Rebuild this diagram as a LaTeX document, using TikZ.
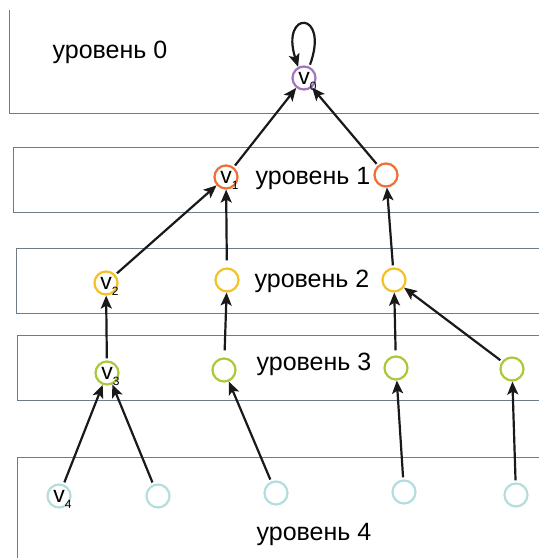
\documentclass[tikz,border=0pt]{standalone}
\usepackage{fontspec}
\setmainfont{Liberation Sans}
\usetikzlibrary{arrows.meta}

\definecolor{boxline}{HTML}{6E7C88}
\definecolor{lvlzero}{HTML}{A373BE}
\definecolor{lvlone}{HTML}{EE6E34}
\definecolor{lvltwo}{HTML}{F4C125}
\definecolor{lvlthree}{HTML}{A9C83A}
\definecolor{lvlfour}{HTML}{B4DDDD}

\newcommand{\vname}[1]{v\rlap{\smash{\raisebox{-6pt}{\fontsize{12}{12}\selectfont #1}}}}

\begin{document}
\begin{tikzpicture}[x=1pt,y=1pt,
    vert/.style={circle,draw=#1,line width=2.2pt,minimum size=23pt,inner sep=0pt,
        font=\fontsize{23}{23}\selectfont},
    lvl/.style={font=\fontsize{25}{28}\selectfont},
    arr/.style={-{Stealth[length=13pt,width=11pt,inset=3pt]},line width=2.2pt,
        color=black!90,shorten <=2pt}]
    \useasboundingbox (0,0) rectangle (539,558);
    \clip (0,0) rectangle (539,558);
    \fill[white] (0,0) rectangle (539,558);
    \draw[boxline,line width=0.9pt] (9,548) -- (9,445) -- (545,445);
    \draw[boxline,line width=0.9pt] (545,411) -- (13,411) -- (13,346) -- (545,346);
    \draw[boxline,line width=0.9pt] (545,310) -- (16,310) -- (16,245) -- (545,245);
    \draw[boxline,line width=0.9pt] (545,223) -- (17,223) -- (17,158) -- (545,158);
    \draw[boxline,line width=0.9pt] (545,101) -- (17,101) -- (17,-5);

    \node[lvl] (t0) at (110,506) {уровень 0};
    \node[lvl] (t1) at (313,380) {уровень 1};
    \node[lvl] (t2) at (312,277) {уровень 2};
    \node[lvl] (t3) at (314,194) {уровень 3};
    \node[lvl] (t4) at (314,24) {уровень 4};

    \node[vert=lvlzero] (v0) at (304,480) {\vname{0}};

    \node[vert=lvlone] (v1) at (226,381) {\vname{1}};
    \node[vert=lvlone] (u1) at (386,383) {};

    \node[vert=lvltwo] (v2) at (106,275) {\vname{2}};
    \node[vert=lvltwo] (u2) at (227,278) {};
    \node[vert=lvltwo] (w2) at (394,278) {};

    \node[vert=lvlthree] (v3) at (107,185) {\vname{3}};
    \node[vert=lvlthree] (u3) at (224,188) {};
    \node[vert=lvlthree] (w3) at (396,190) {};
    \node[vert=lvlthree] (z3) at (512,189) {};

    \node[vert=lvlfour] (v4) at (59,62) {\vname{4}};
    \node[vert=lvlfour] (u4) at (158,62) {};
    \node[vert=lvlfour] (w4) at (276,65) {};
    \node[vert=lvlfour] (y4) at (404,66) {};
    \node[vert=lvlfour] (z4) at (516,63) {};

    \draw[arr] (v0.65) .. controls (330,548) and (280,548) .. (v0.118);
    \draw[arr] (v1) -- (v0);
    \draw[arr] (u1) -- (v0);
    \draw[arr] (v2) -- (v1);
    \draw[arr,shorten <=7pt] (u2) -- (v1);
    \draw[arr] (w2) -- (u1);
    \draw[arr] (v3) -- (v2);
    \draw[arr,shorten <=7pt] (u3) -- (u2);
    \draw[arr,shorten <=5pt] (w3) -- (w2);
    \draw[arr] (z3) -- (w2);
    \draw[arr] (v4) -- (v3.250);
    \draw[arr] (u4) -- (v3.295);
    \draw[arr] (w4) -- (u3);
    \draw[arr] (y4) -- (w3);
    \draw[arr] (z4) -- (z3);
\end{tikzpicture}
\end{document}
